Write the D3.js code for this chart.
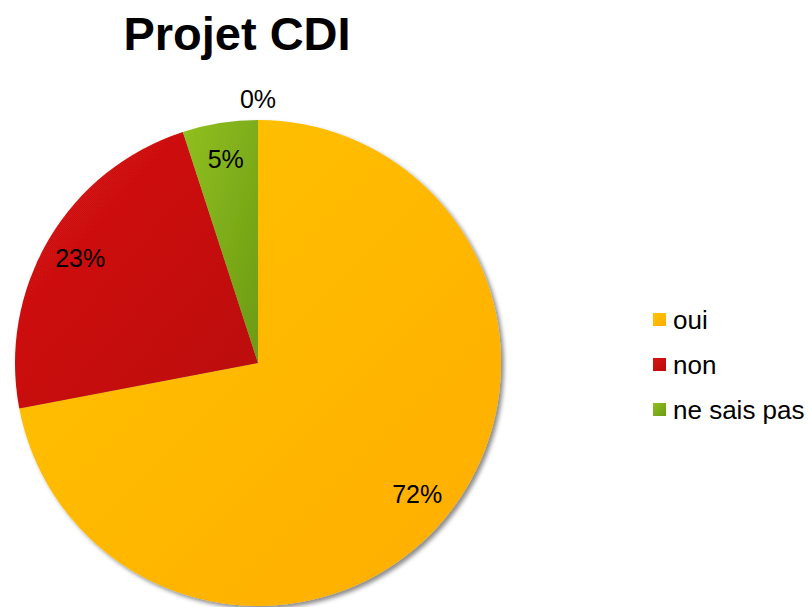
<!DOCTYPE html>
<html>
<head>
<meta charset="utf-8">
<script src="https://cdn.jsdelivr.net/npm/d3@7"></script>
<style>
  body { margin: 0; background: #fff; }
  text { font-family: "Liberation Sans", Arial, sans-serif; }
</style>
</head>
<body>
<script>
// metrics
const width = 810, height = 607;
const cx = 258, cy = 363, radius = 243;

// data
const categories = ["oui", "non", "ne sais pas", ""];
const values = [72, 23, 5, 0];
const lightColors = ["#FFC400", "#D71414", "#90C020", ""];
const darkColors = ["#FFAD00", "#BA0B0B", "#6C9A14", ""];

// elements
const svg = d3.select('body').append('svg')
    .attr('width', width)
    .attr('height', height);

const defs = svg.append('defs');
const shadow = defs.append('filter')
    .attr('id', 'shadow')
    .attr('x', '-10%').attr('y', '-10%')
    .attr('width', '120%').attr('height', '120%');
shadow.append('feDropShadow')
    .attr('dx', 3).attr('dy', 3)
    .attr('stdDeviation', 2)
    .attr('flood-color', '#000')
    .attr('flood-opacity', 0.45);

categories.forEach((c, i) => {
    const g = defs.append('linearGradient')
        .attr('id', 'grad' + i)
        .attr('x1', 0).attr('y1', 0)
        .attr('x2', 1).attr('y2', 1);
    g.append('stop').attr('offset', '0%').attr('stop-color', lightColors[i]);
    g.append('stop').attr('offset', '100%').attr('stop-color', darkColors[i]);
});

// title
svg.append('text')
    .attr('x', 237)
    .attr('y', 50)
    .attr('text-anchor', 'middle')
    .style('font-size', '47px')
    .style('font-weight', 'bold')
    .text('Projet CDI');

// pie
const pie = d3.pie().sort(null).value(d => d);
const arcs = pie(values);
const arc = d3.arc().innerRadius(0).outerRadius(radius);
const labelArc = d3.arc().innerRadius(radius * 0.85).outerRadius(radius * 0.85);
const outerLabelArc = d3.arc().innerRadius(radius + 21).outerRadius(radius + 21);

const pieG = svg.append('g')
    .attr('transform', `translate(${cx}, ${cy})`);

pieG.append('g')
    .attr('filter', 'url(#shadow)')
    .selectAll('path')
    .data(arcs.filter(d => d.value > 0))
    .enter().append('path')
    .attr('d', arc)
    .attr('fill', d => `url(#grad${d.index})`);

pieG.selectAll('text.lbl')
    .data(arcs)
    .enter().append('text')
    .attr('class', 'lbl')
    .attr('transform', d => {
        const p = d.value > 0 ? labelArc.centroid(d) : outerLabelArc.centroid(d);
        return `translate(${p[0]}, ${p[1]})`;
    })
    .attr('text-anchor', 'middle')
    .attr('dy', '0.35em')
    .style('font-size', '25px')
    .text(d => d.value + '%');

// legend
const legend = svg.append('g')
    .attr('transform', 'translate(653, 320)');
const items = legend.selectAll('g')
    .data(categories.map((c, i) => ({ name: c, i })).filter(d => d.name !== ''))
    .enter().append('g')
    .attr('transform', (d, k) => `translate(0, ${k * 45})`);
items.append('rect')
    .attr('x', 0).attr('y', -7)
    .attr('width', 13).attr('height', 13)
    .attr('fill', d => `url(#grad${d.i})`);
items.append('text')
    .attr('x', 20)
    .attr('dy', '0.35em')
    .style('font-size', '26px')
    .text(d => d.name);
</script>
</body>
</html>
